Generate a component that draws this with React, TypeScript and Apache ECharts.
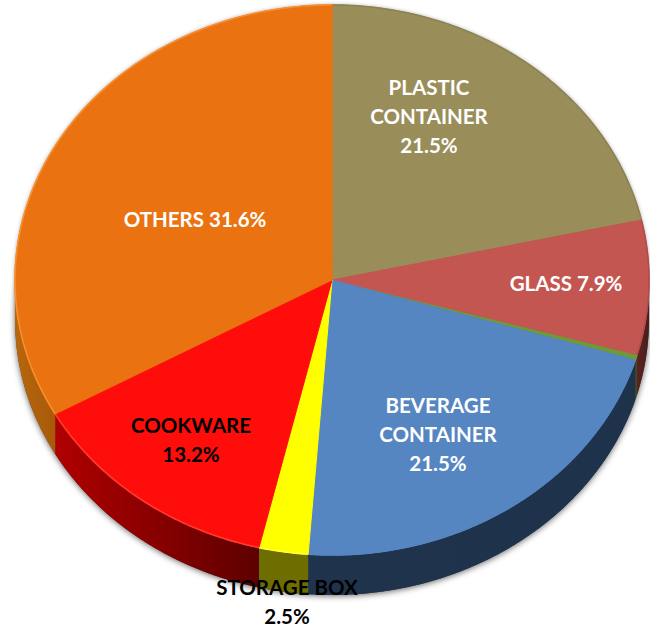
import React, { useEffect, useRef } from "react";
import * as echarts from "echarts";

// Shares in percent, clockwise from twelve o'clock.
const categories = ["PLASTIC CONTAINER", "GLASS", "METAL", "BEVERAGE CONTAINER", "STORAGE BOX", "COOKWARE", "OTHERS", "OTHERS REST"];
const shares = [21.5, 7.9, 0.3, 21.5, 2.5, 13.2, 31.6, 1.5];
const labelTexts = ["PLASTIC\nCONTAINER\n21.5%", "GLASS 7.9%", "", "BEVERAGE\nCONTAINER\n21.5%", "STORAGE BOX\n2.5%", "COOKWARE\n13.2%", "OTHERS 31.6%", ""];

const topColors = ["#998e5a", "#c45652", "#6f9a3a", "#5586c2", "#ffff00", "#ff0d0a", "#ea7210", "#ea7210"];
const wallFrom = ["#5c5536", "#5a2422", "#3c4e20", "#1f334c", "#6e6e00", "#b00000", "#b8660e", "#b8660e"];
const wallTo = ["#5c5536", "#4a1c1c", "#3c4e20", "#1f324b", "#6e6e00", "#5e0000", "#a85a08", "#a85a08"];
const rimColors = ["#8d8352", "#b04c49", "#6f9a3a", "#5586c2", "#ffff40", "#ff3a30", "#f88e2c", "#f88e2c"];
const outlineWidths = [1, 1, 0, 1, 1, 1, 1, 1.4];
const labelColors = ["#ffffff", "#ffffff", "#ffffff", "#ffffff", "#000000", "#000000", "#ffffff", "#ffffff"];
// Centre of each label's first line.
const labelAnchors: [number, number][] = [
  [429, 87], [566, 283], [0, 0], [438, 405], [287, 587], [191, 425], [195, 219], [0, 0],
];

const CX = 332;
const CY = 280;
const RX = 317;
const RY = 275;
const DEPTH = 40;
const LINE_STEP = 29;

const deg = (share: number) => (share / 100) * 360;
const rimPoint = (a: number, lift = 0): [number, number] => {
  const r = (a * Math.PI) / 180;
  return [CX + RX * Math.sin(r), CY - RY * Math.cos(r) + lift];
};
const arcPoints = (from: number, to: number, lift = 0) => {
  const out: [number, number][] = [];
  const steps = Math.max(2, Math.ceil((to - from) * 2));
  for (let i = 0; i <= steps; i++) out.push(rimPoint(from + ((to - from) * i) / steps, lift));
  return out;
};

export default function App() {
  const ref = useRef<HTMLDivElement>(null);

  useEffect(() => {
    if (!ref.current) return;
    const chart = echarts.init(ref.current, undefined, { renderer: "svg" });

    let running = 0;
    const sliceData = shares.map((s, i) => {
      const start = deg(running);
      running += s;
      return { name: categories[i], value: [i, start, deg(running)] };
    });

    chart.setOption({
      animation: false,
      backgroundColor: "#ffffff",
      graphic: [
        {
          type: "ellipse",
          silent: true,
          z: -1,
          shape: { cx: CX, cy: CY + DEPTH, rx: RX, ry: RY },
          style: { fill: "#444444", shadowBlur: 6, shadowColor: "rgba(0,0,0,0.6)", shadowOffsetX: 0, shadowOffsetY: 1 },
        },
        {
          type: "ellipse",
          silent: true,
          z: -1,
          shape: { cx: CX, cy: CY, rx: RX, ry: RY },
          style: { fill: "#444444", shadowBlur: 4, shadowColor: "rgba(0,0,0,0.4)" },
        },
      ],
      series: [
        {
          type: "custom",
          coordinateSystem: "none",
          silent: true,
          clip: false,
          data: sliceData,
          renderItem: (_p: unknown, api: any) => {
            const i = api.value(0) as number;
            const a = api.value(1) as number;
            const b = api.value(2) as number;
            const children: any[] = [];
            // Only the part of the rim facing the viewer has a visible wall.
            const wa = Math.max(a, 90);
            const wb = Math.min(b, 270);
            if (wb > wa) {
              const top = arcPoints(wa, wb);
              const bottom = arcPoints(wa, wb, DEPTH).reverse();
              children.push({
                type: "polygon",
                shape: { points: [...top, ...bottom] },
                style: {
                  fill: new echarts.graphic.LinearGradient(1, 0, 0, 0, [
                    { offset: 0, color: wallTo[i] },
                    { offset: 1, color: wallFrom[i] },
                  ]),
                },
              });
            }
            children.push({
              type: "polygon",
              shape: { points: [[CX, CY], ...arcPoints(a, b)] },
              style: { fill: topColors[i], stroke: topColors[i], lineWidth: outlineWidths[i] },
            });
            children.push({
              type: "polyline",
              shape: { points: arcPoints(a, b, 0) },
              style: { fill: "none", stroke: rimColors[i], lineWidth: 1.6 },
            });
            return { type: "group", children };
          },
        },
        {
          type: "custom",
          coordinateSystem: "none",
          silent: true,
          clip: false,
          z: 5,
          data: labelTexts.map((t, i) => ({ name: t, value: [i] })),
          renderItem: (_p: unknown, api: any) => {
            const i = api.value(0) as number;
            const lines = labelTexts[i] ? labelTexts[i].split("\n") : [];
            return {
              type: "group",
              children: lines.map((line, n) => ({
                type: "text",
                style: {
                  text: line,
                  x: labelAnchors[i][0],
                  y: labelAnchors[i][1] + n * LINE_STEP,
                  fill: labelColors[i],
                  font: 'bold 20.5px Lato, "Noto Sans", sans-serif',
                  align: "center",
                  verticalAlign: "middle",
                },
              })),
            };
          },
        },
      ],
    });

    return () => chart.dispose();
  }, []);

  return <div ref={ref} style={{ position: "absolute", left: 0, top: 0, width: 650, height: 627 }} />;
}
